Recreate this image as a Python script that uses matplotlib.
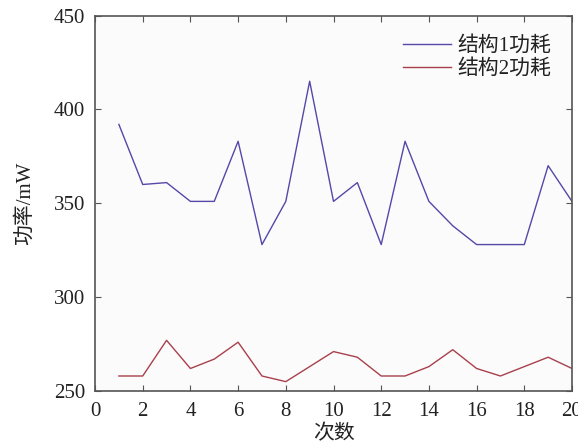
import numpy as np
import matplotlib
matplotlib.use("Agg")
import matplotlib.pyplot as plt

plt.rcParams['font.family'] = ['Liberation Serif', 'Noto Sans CJK SC']
plt.rcParams['axes.unicode_minus'] = False

runs = np.arange(1, 21)
power_s1 = [392, 360, 361, 351, 351, 383, 328, 351, 415, 351,
            361, 328, 383, 351, 338, 328, 328, 328, 370, 351]
power_s2 = [258, 258, 277, 262, 267, 276, 258, 255, 263, 271,
            268, 258, 258, 263, 272, 262, 258, 263, 268, 262]
labels = ['结构1功耗', '结构2功耗']

fig = plt.figure(figsize=(5.78, 4.48), dpi=100)
ax = fig.add_axes([0.1644, 0.1272, 0.8252, 0.8382])
ax.set_facecolor('#fbfbfb')

ax.plot(runs, power_s1, color='#5448a8', linewidth=1.0, label=labels[0])
ax.plot(runs, power_s2, color='#a8404c', linewidth=1.0, label=labels[1])

ax.set_xlim(0, 20)
ax.set_ylim(250, 450)
ax.set_xticks(np.arange(0, 21, 2))
ax.set_yticks(np.arange(250, 451, 50))
ax.tick_params(direction='in', top=True, right=True, labelsize=15,
               length=4, color='#555555', labelcolor='#222222')
ax.tick_params(axis='x', pad=8)
ax.tick_params(axis='y', pad=7)
for s in ax.spines.values():
    s.set_color('#555555')
    s.set_linewidth(1.2)

ax.set_xlabel('次数', fontsize=15, labelpad=3, color='#222222')
ax.set_ylabel('功率/mW', fontsize=15, labelpad=14, color='#222222')

leg = ax.legend(loc='upper right', frameon=False, fontsize=15,
                handlelength=2.3, handletextpad=0.3, labelspacing=0.15,
                borderaxespad=0.6)
for t in leg.get_texts():
    t.set_color('#222222')

fig.savefig('out.png', dpi=100)
